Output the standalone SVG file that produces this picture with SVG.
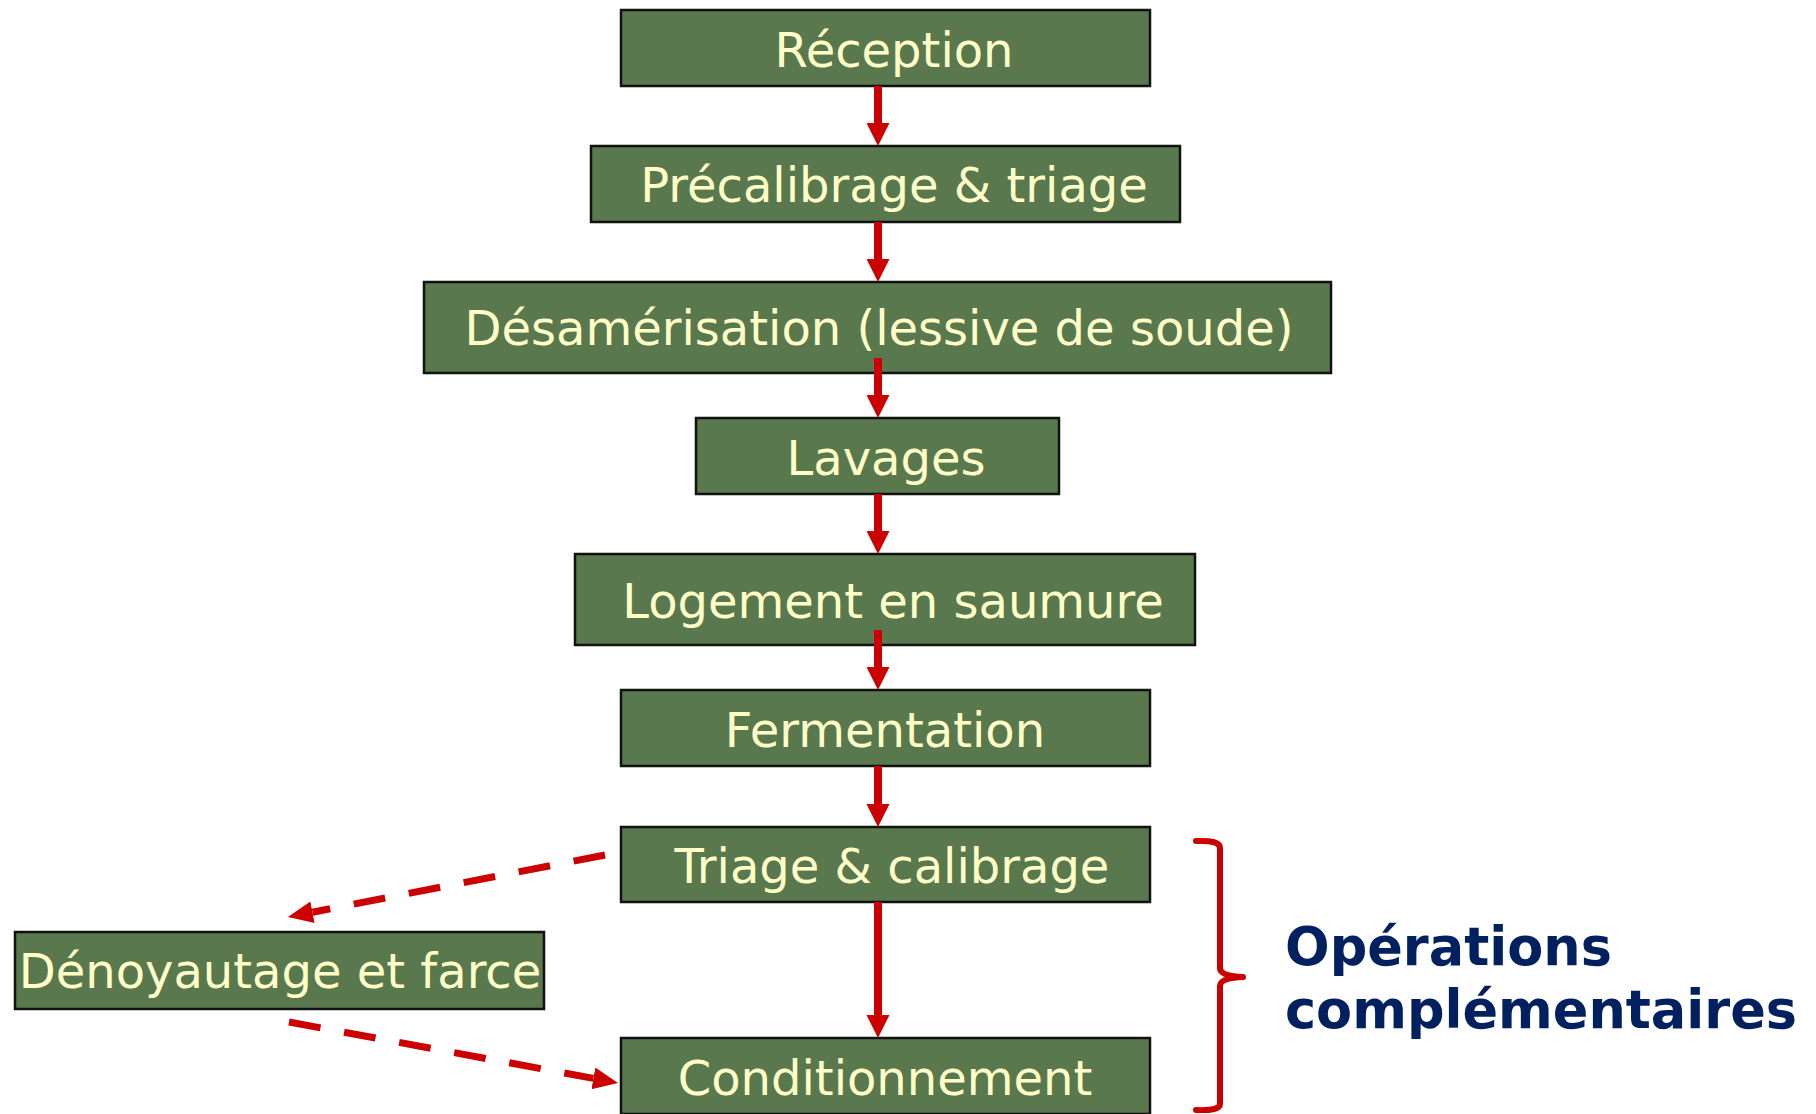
<svg xmlns="http://www.w3.org/2000/svg" width="1816" height="1114" viewBox="0 0 1816 1114">
<style>
.box{fill:#5A784E;stroke:#111;stroke-width:2.5}
.lbl{font-family:"DejaVu Sans","Verdana",sans-serif;font-size:48px;fill:#FFFFC8;text-anchor:middle}
.side{font-family:"DejaVu Sans","Verdana",sans-serif;font-weight:bold;font-size:52.5px;fill:#002060}
.solid{stroke:#CC0000;stroke-width:8;fill:none}
.dash{stroke:#CC0000;stroke-width:7;fill:none;stroke-dasharray:32 24}
</style>
<defs>
<marker id="ah" markerUnits="userSpaceOnUse" markerWidth="24" markerHeight="24" refX="0" refY="11.5" orient="auto">
<path d="M0,0 L23,11.5 L0,23 z" fill="#CC0000"/>
</marker>
<marker id="ahd" markerUnits="userSpaceOnUse" markerWidth="26" markerHeight="24" refX="0" refY="11" orient="auto">
<path d="M0,0 L25,11 L0,22 z" fill="#CC0000"/>
</marker>
</defs>
<rect width="1816" height="1114" fill="#fff"/>
<g id="n-reception"><rect class="box" x="621" y="10" width="529" height="76"/><text class="lbl" x="894" y="67">Réception</text></g>
<g id="n-precalibrage"><rect class="box" x="591" y="146" width="589" height="76"/><text class="lbl" x="894" y="202">Précalibrage &amp; triage</text></g>
<g id="n-desamerisation"><rect class="box" x="424" y="282" width="907" height="91"/><text class="lbl" x="879" y="345">Désamérisation (lessive de soude)</text></g>
<g id="n-lavages"><rect class="box" x="696" y="418" width="363" height="76"/><text class="lbl" x="886" y="475">Lavages</text></g>
<g id="n-logement"><rect class="box" x="575" y="554" width="620" height="91"/><text class="lbl" x="893" y="618">Logement en saumure</text></g>
<g id="n-fermentation"><rect class="box" x="621" y="690" width="529" height="76"/><text class="lbl" x="885" y="747">Fermentation</text></g>
<g id="n-triage"><rect class="box" x="621" y="827" width="529" height="75"/><text class="lbl" x="892" y="883">Triage &amp; calibrage</text></g>
<g id="n-denoyautage"><rect class="box" x="15" y="932" width="529" height="77"/><text class="lbl" x="280" y="988">Dénoyautage et farce</text></g>
<g id="n-conditionnement"><rect class="box" x="621" y="1038" width="529" height="76"/><text class="lbl" x="885" y="1095">Conditionnement</text></g>
<g id="connectors">
<line class="solid" x1="878" y1="86" x2="878" y2="123" marker-end="url(#ah)"/>
<line class="solid" x1="878" y1="222" x2="878" y2="259" marker-end="url(#ah)"/>
<line class="solid" x1="878" y1="358" x2="878" y2="395" marker-end="url(#ah)"/>
<line class="solid" x1="878" y1="494" x2="878" y2="531" marker-end="url(#ah)"/>
<line class="solid" x1="878" y1="630" x2="878" y2="667" marker-end="url(#ah)"/>
<line class="solid" x1="878" y1="766" x2="878" y2="804" marker-end="url(#ah)"/>
<line class="solid" x1="878" y1="902" x2="878" y2="1015" marker-end="url(#ah)"/>
<line class="dash" x1="605" y1="855" x2="312.5" y2="912.2" marker-end="url(#ahd)"/>
<line class="dash" x1="289" y1="1022" x2="593.4" y2="1078.4" marker-end="url(#ahd)"/>
</g>
<g id="brace">
<path d="M1196,841 Q1220,840 1220,848 L1220,968 Q1220,976 1243,977 Q1220,978 1220,986 L1220,1104 Q1220,1111 1196,1110" fill="none" stroke="#CC0000" stroke-width="6" stroke-linecap="round" stroke-linejoin="round"/>
<text class="side" x="1285" y="965">Opérations</text>
<text class="side" x="1285" y="1028">complémentaires</text>
</g>
</svg>
